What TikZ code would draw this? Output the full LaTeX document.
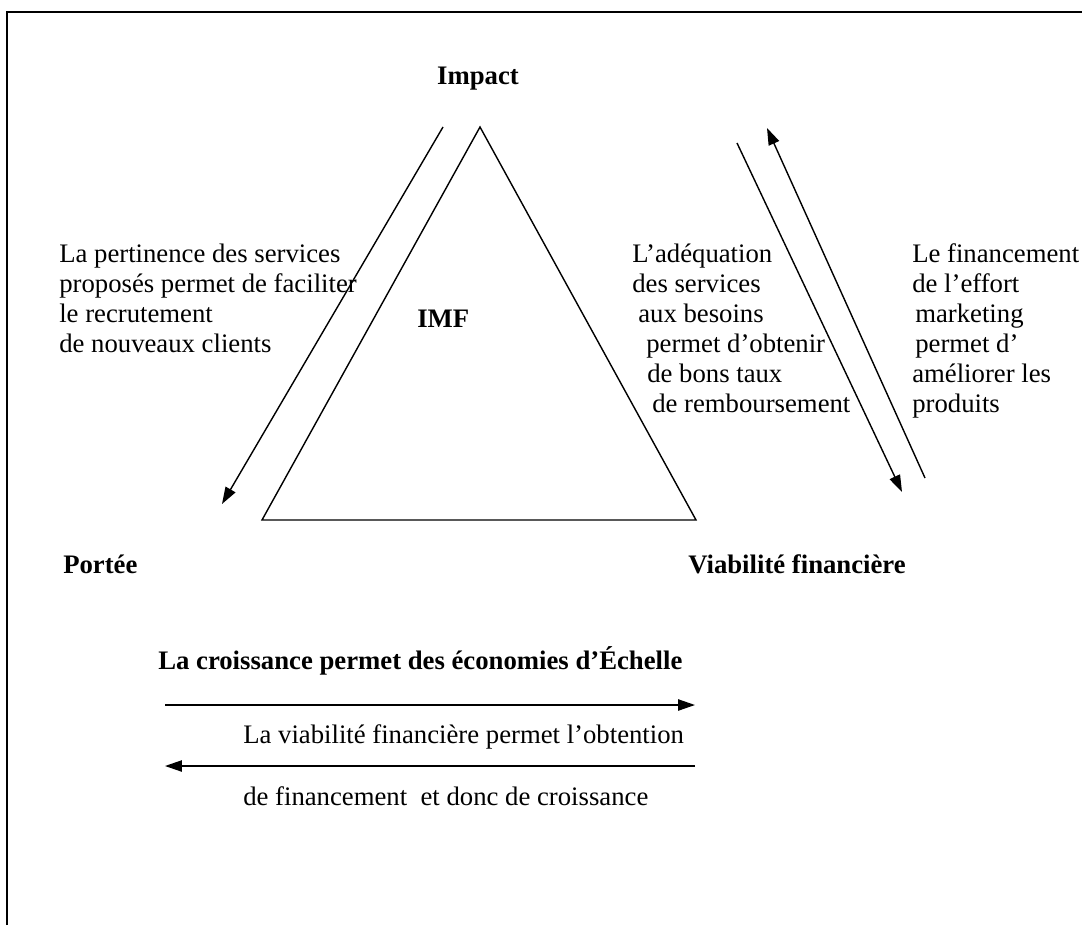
\documentclass[tikz,border=0pt]{standalone}
\usepackage{fontspec}
\setmainfont{Liberation Serif}
\usepackage{tikz}
\usetikzlibrary{positioning}
\usetikzlibrary{arrows.meta}

\tikzset{
  txt/.style={anchor=base west, inner sep=0pt, font=\fontsize{19}{22}\selectfont},
  btxt/.style={txt, font=\fontsize{19}{22}\selectfont\bfseries},
  arr/.style={line width=1pt, -{Triangle[length=12pt, width=8pt]}},
  side/.style={line width=1pt}
}

\begin{document}
\begin{tikzpicture}[x=0.025cm, y=-0.025cm]
  \useasboundingbox (0,0) rectangle (1082,925);
  % frame
  \draw[line width=1.2pt] (7,925) -- (7,12) -- (1082,12);

  % triangle
  \coordinate (top) at (480,127);
  \coordinate (bl) at (262,520);
  \coordinate (br) at (696,520);
  \draw[side] (top) -- (bl) -- (br) -- cycle;

  % labels of the corners
  \node[btxt, anchor=base] (impact) at (478,85) {Impact};
  \node[btxt] (imf) at (417,327) {IMF};
  \node[btxt] (portee) at (63,573) {Portée};
  \node[btxt] (viab) at (688,573) {Viabilité financière};

  % side arrows
  \coordinate (la1) at (443,127);
  \coordinate (la2) at (222,504);
  \draw[arr] (la1) -- (la2);
  \coordinate (ra1) at (737,143);
  \coordinate (ra2) at (902,492);
  \draw[arr] (ra1) -- (ra2);
  \coordinate (rb1) at (925,478);
  \coordinate (rb2) at (767,128);
  \draw[arr] (rb1) -- (rb2);

  % texts along the sides
  \foreach \dx/\txt [count=\i] in {0/La pertinence des services,
      0/proposés permet de faciliter, 0/le recrutement, 0/de nouveaux clients}
    \node[txt] (gauche\i) at (59+\dx,232+30*\i) {\txt};
  \foreach \dx/\txt [count=\i] in {0/L’adéquation, 0/des services,
      6/aux besoins, 14/permet d’obtenir, 15/de bons taux, 20/de remboursement}
    \node[txt] (milieu\i) at (632+\dx,232+30*\i) {\txt};
  \foreach \dx/\txt [count=\i] in {0/Le financement, 0/de l’effort,
      3/marketing, 3/permet d’, 0/améliorer les, 0/produits}
    \node[txt] (droite\i) at (912+\dx,232+30*\i) {\txt};

  % bottom
  \node[btxt] (crois) at (158,669) {La croissance permet des économies d’Échelle};
  \coordinate (h1) at (165,705);
  \coordinate (h2) at (695,705);
  \draw[arr] (h1) -- (h2);
  \node[txt] (obt) at (243,743) {La viabilité financière permet l’obtention};
  \coordinate (g1) at (695,766);
  \coordinate (g2) at (165,766);
  \draw[arr] (g1) -- (g2);
  \node[txt] (fin) at (243,805) {de financement\ \ et donc de croissance};
\end{tikzpicture}
\end{document}
